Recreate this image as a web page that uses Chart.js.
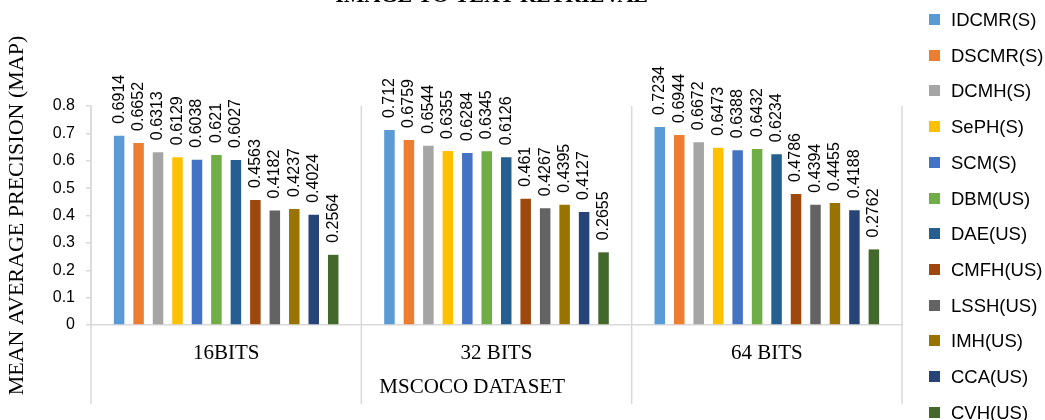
<!DOCTYPE html>
<html>
<head>
<meta charset="utf-8">
<script src="https://cdn.jsdelivr.net/npm/chart.js@4/dist/chart.umd.min.js"></script>
<style>
  html, body { margin: 0; padding: 0; overflow: hidden; background: #fff; }
  #wrap { position: relative; width: 1045px; height: 420px; overflow: hidden; }
  #legend { position: absolute; left: 929px; top: 0; font: 18.5px "Liberation Sans", Arial, sans-serif; color: #000; }
  .item { position: absolute; left: 0; height: 20px; line-height: 20px; white-space: nowrap; }
  .box { position: absolute; left: 0; top: 4px; width: 11px; height: 11px; }
  .lbl { position: absolute; left: 22px; top: 0; }
</style>
</head>
<body>
<div id="wrap">
  <canvas id="c" width="1045" height="420"></canvas>
  <div id="legend"></div>
</div>
<script>
// Text
const chartTitle = 'IMAGE TO TEXT RETRIEVAL';
const yAxisLabel = 'MEAN AVERAGE PRECISION (MAP)';
const groupLabel = 'MSCOCO DATASET';
const categories = ['16BITS', '32 BITS', '64 BITS'];
const yTicks = [0, 0.1, 0.2, 0.3, 0.4, 0.5, 0.6, 0.7, 0.8];

// Methods, in legend order
const methods = ['IDCMR(S)', 'DSCMR(S)', 'DCMH(S)', 'SePH(S)', 'SCM(S)', 'DBM(US)',
                 'DAE(US)', 'CMFH(US)', 'LSSH(US)', 'IMH(US)', 'CCA(US)', 'CVH(US)'];

// MAP per code length (16, 32, 64 bits)
const IDCMR_S = [0.6914, 0.712, 0.7234];
const DSCMR_S = [0.6652, 0.6759, 0.6944];
const DCMH_S  = [0.6313, 0.6544, 0.6672];
const SePH_S  = [0.6129, 0.6355, 0.6473];
const SCM_S   = [0.6038, 0.6284, 0.6388];
const DBM_US  = [0.621, 0.6345, 0.6432];
const DAE_US  = [0.6027, 0.6126, 0.6234];
const CMFH_US = [0.4563, 0.461, 0.4786];
const LSSH_US = [0.4182, 0.4267, 0.4394];
const IMH_US  = [0.4237, 0.4395, 0.4455];
const CCA_US  = [0.4024, 0.4127, 0.4188];
const CVH_US  = [0.2564, 0.2655, 0.2762];

const seriesValues = [IDCMR_S, DSCMR_S, DCMH_S, SePH_S, SCM_S, DBM_US,
                      DAE_US, CMFH_US, LSSH_US, IMH_US, CCA_US, CVH_US];

const colors = ['#5B9BD5', '#ED7D31', '#A5A5A5', '#FFC000', '#4472C4', '#70AD47',
                '#255E91', '#9E480E', '#636363', '#997300', '#264478', '#43682B'];

const SERIF = '"Liberation Serif", "Times New Roman", serif';
const SANS = '"Liberation Sans", Arial, sans-serif';
const LINE = '#d9d9d9';

// Category separators (extended down through the label rows), value labels,
// the outer group label and the title
const decorations = {
  id: 'decorations',
  beforeDatasetsDraw(chart) {
    const ctx = chart.ctx;
    const xs = chart.scales.x;
    const area = chart.chartArea;
    const half = (xs.getPixelForValue(1) - xs.getPixelForValue(0)) / 2;
    ctx.save();
    ctx.strokeStyle = LINE;
    ctx.lineWidth = 1.5;
    for (let i = 0; i <= categories.length; i++) {
      const px = xs.getPixelForValue(0) - half + i * 2 * half;
      ctx.beginPath();
      ctx.moveTo(px, area.top);
      ctx.lineTo(px, 404);
      ctx.stroke();
    }
    ctx.restore();
  },
  afterDatasetsDraw(chart) {
    const ctx = chart.ctx;
    const xs = chart.scales.x;
    ctx.save();
    ctx.fillStyle = '#000';
    ctx.font = '16px ' + SANS;
    ctx.textAlign = 'left';
    ctx.textBaseline = 'middle';
    chart.data.datasets.forEach((ds, di) => {
      const meta = chart.getDatasetMeta(di);
      meta.data.forEach((bar, i) => {
        ctx.save();
        ctx.translate(bar.x, bar.y - 12);
        ctx.rotate(-Math.PI / 2);
        ctx.fillText(String(ds.data[i]), 0, 0);
        ctx.restore();
      });
    });
    // outer label of the two-level category axis
    ctx.font = '21px ' + SERIF;
    ctx.textAlign = 'center';
    ctx.fillText(groupLabel, xs.left + (xs.right - xs.left) * 0.47, 387);
    // title sits at the very top edge
    ctx.font = 'bold 22px ' + SERIF;
    ctx.textBaseline = 'alphabetic';
    ctx.fillText(chartTitle, xs.left + (xs.right - xs.left) * 0.494, 1.5);
    ctx.restore();
  }
};

const chart = new Chart(document.getElementById('c'), {
  type: 'bar',
  data: {
    labels: categories,
    datasets: methods.map((m, i) => ({
      label: m,
      data: seriesValues[i],
      backgroundColor: colors[i],
      borderWidth: 0,
      categoryPercentage: 0.864,
      barPercentage: 0.54
    }))
  },
  options: {
    responsive: false,
    animation: false,
    devicePixelRatio: 1,
    layout: { padding: { top: 106, right: 143, bottom: 0, left: 2 } },
    plugins: {
      legend: { display: false },
      tooltip: { enabled: false }
    },
    scales: {
      x: {
        grid: { display: false, drawTicks: false },
        border: { display: true, color: LINE, width: 1.5 },
        ticks: { color: '#000', font: { family: SERIF, size: 21 }, padding: 16, maxRotation: 0 },
        afterFit(s) { s.height = 95; }
      },
      y: {
        min: 0,
        max: 0.8,
        afterBuildTicks(s) { s.ticks = yTicks.map(v => ({ value: v })); },
        grid: { drawOnChartArea: false, drawTicks: true, tickLength: 5, color: LINE, lineWidth: 1.5 },
        border: { display: true, color: LINE, width: 1.5 },
        ticks: {
          color: '#000',
          font: { family: SANS, size: 16 },
          padding: 11,
          callback: (v) => String(Number(v.toFixed(1)))
        },
        title: { display: true, text: yAxisLabel, color: '#000', font: { family: SERIF, size: 22 }, padding: { top: 2, bottom: 0 } },
        afterFit(s) { s.width = 89; }
      }
    }
  },
  plugins: [decorations]
});

// Legend column built from the chart's datasets
const legend = document.getElementById('legend');
chart.data.datasets.forEach((ds, i) => {
  const item = document.createElement('div');
  item.className = 'item';
  item.style.top = (10 + i * 35.7) + 'px';
  const box = document.createElement('span');
  box.className = 'box';
  box.style.background = ds.backgroundColor;
  const lbl = document.createElement('span');
  lbl.className = 'lbl';
  lbl.textContent = ds.label;
  item.appendChild(box);
  item.appendChild(lbl);
  legend.appendChild(item);
});
</script>
</body>
</html>
